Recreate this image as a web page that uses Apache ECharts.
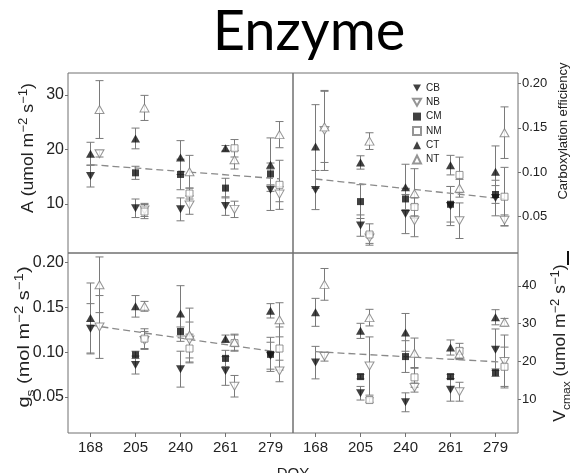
<!DOCTYPE html>
<html>
<head>
<meta charset="utf-8">
<script src="https://cdn.jsdelivr.net/npm/echarts@6/dist/echarts.min.js"></script>
<style>
html, body { margin: 0; padding: 0; background: #fff; }
#main { width: 572px; height: 473px; }
</style>
</head>
<body>
<div id="main"></div>
<script>
// DOY categories
var doy = ['168', '205', '240', '261', '279'];
// series order: CB, NB, CM, NM, CT, NT
var names = ['CB', 'NB', 'CM', 'NM', 'CT', 'NT'];

// A (umol m-2 s-1)
var aMean = [
    [15.1, 9.2, 9.0, 9.6, 12.6],
    [19.2, 8.9, 9.8, 9.0, 11.8],
    [null, 15.7, 15.4, 12.9, 15.5],
    [null, 8.6, 11.9, 20.2, 13.5],
    [19.2, 22.0, 18.5, 20.2, 17.2],
    [27.3, 27.6, 15.9, 18.1, 22.7]
];
var aErr = [
    [2.0, 1.7, 2.1, 1.7, 3.8],
    [0.6, 1.2, 1.7, 1.5, 1.4],
    [null, 1.2, 2.8, 1.8, 2.0],
    [null, 1.3, 1.0, 1.6, 4.5],
    [2.1, 1.9, 3.1, 0.5, 4.9],
    [5.3, 2.3, 3.0, 1.7, 2.4]
];
// Carboxylation efficiency
var ceMean = [
    [0.080, 0.040, 0.053, 0.062, 0.071],
    [0.147, 0.026, 0.0455, 0.0455, 0.046],
    [null, 0.067, 0.070, 0.064, 0.075],
    [null, 0.030, 0.061, 0.097, 0.0725],
    [0.129, 0.111, 0.083, 0.108, 0.1006],
    [0.151, 0.135, 0.076, 0.082, 0.1445]
];
var ceErr = [
    [0.022, 0.012, 0.022, 0.022, 0.020],
    [0.045, 0.006, 0.018, 0.020, 0.006],
    [null, 0.019, 0.012, 0.020, 0.010],
    [null, 0.012, 0.010, 0.020, 0.033],
    [0.047, 0.0075, 0.026, 0.011, 0.029],
    [0.040, 0.0094, 0.028, 0.010, 0.029]
];
// gs (mol m-2 s-1)
var gsMean = [
    [0.126, 0.0856, 0.081, 0.079, 0.096],
    [0.128, 0.113, 0.1135, 0.062, 0.079],
    [null, 0.097, 0.123, 0.093, 0.0975],
    [null, 0.115, 0.104, 0.110, 0.104],
    [0.138, 0.151, 0.143, 0.115, 0.146],
    [0.175, 0.151, 0.119, 0.111, 0.136]
];
var gsErr = [
    [0.028, 0.010, 0.020, 0.016, 0.015],
    [0.035, 0.010, 0.020, 0.012, 0.012],
    [null, 0.004, 0.005, 0.009, 0.019],
    [null, 0.011, 0.016, 0.009, 0.024],
    [0.039, 0.012, 0.031, 0.004, 0.008],
    [0.031, 0.0055, 0.030, 0.009, 0.019]
];
// Vcmax (umol m-2 s-1)
var vMean = [
    [19.7, 11.6, 9.2, 12.5, 23.1],
    [21.3, 18.8, 13.1, 12.0, 20.0],
    [null, 16.0, 21.3, 16.0, 17.05],
    [null, 9.8, 15.8, 22.8, 18.6],
    [33.0, 28.1, 27.7, 23.7, 31.7],
    [40.4, 31.6, 22.2, 22.0, 30.4]
];
var vErr = [
    [4.3, 1.8, 2.5, 3.0, 5.5],
    [1.2, 7.7, 1.2, 2.5, 7.0],
    [null, 0.6, 4.2, 0.6, 1.0],
    [null, 0.6, 2.6, 2.0, 5.2],
    [3.7, 2.0, 5.0, 2.0, 2.0],
    [4.2, 2.2, 4.0, 1.5, 1.0]
];
// dashed regression lines (start, end) and their x span in category units
var trendA = [17.2, 14.6];
var trendCE = [0.0924, 0.0699];
var trendGs = [0.130, 0.0997];
var trendV = [22.6, 19.8];
var trendX = [0, 4.2];

// tick labels
var ticksA = [10, 20, 30];
var ticksCE = [0.05, 0.10, 0.15, 0.20];
var ticksGs = [0.05, 0.10, 0.15, 0.20];
var ticksV = [10, 20, 30, 40];

var nShift = 0.2; // N treatments drawn a little right of the tick
var downTri = 'path://M0,0L2,0L1,1.732Z';
var marks = {
    CB: { symbol: downTri, size: [9, 8], open: false },
    NB: { symbol: downTri, size: [9, 8], open: true },
    CM: { symbol: 'rect', size: 7, open: false },
    NM: { symbol: 'rect', size: 7, open: true },
    CT: { symbol: 'triangle', size: [9, 8], open: false },
    NT: { symbol: 'triangle', size: [9, 8], open: true }
};
var font = 'Liberation Sans';
var frame = '#707070';

var panels = [
    { mean: aMean, err: aErr, trend: trendA, min: 1, max: 34, ticks: ticksA, side: 'left', dec: 0 },
    { mean: ceMean, err: ceErr, trend: trendCE, min: 0.0092, max: 0.2116, ticks: ticksCE, side: 'right', dec: 2 },
    { mean: gsMean, err: gsErr, trend: trendGs, min: 0.0099, max: 0.2104, ticks: ticksGs, side: 'left', dec: 2 },
    { mean: vMean, err: vErr, trend: trendV, min: 1.08, max: 48.7, ticks: ticksV, side: 'right', dec: 0 }
];

var grids = [
    { left: 68, top: 73, width: 225, height: 180 },
    { left: 293, top: 73, width: 225, height: 180 },
    { left: 68, top: 253, width: 225, height: 180 },
    { left: 293, top: 253, width: 225, height: 180 }
];

function renderErr(params, api) {
    var x = api.value(0);
    var p1 = api.coord([x, api.value(2)]);
    var p2 = api.coord([x, api.value(1)]);
    var w = 4;
    var st = { stroke: '#7a7a7a', lineWidth: 1 };
    return {
        type: 'group',
        children: [
            { type: 'line', shape: { x1: p1[0], y1: p1[1], x2: p2[0], y2: p2[1] }, style: st },
            { type: 'line', shape: { x1: p1[0] - w, y1: p1[1], x2: p1[0] + w, y2: p1[1] }, style: st },
            { type: 'line', shape: { x1: p2[0] - w, y1: p2[1], x2: p2[0] + w, y2: p2[1] }, style: st }
        ]
    };
}

var xAxes = [];
var yAxes = [];
var series = [];

for (var g = 0; g < 4; g++) {
    var p = panels[g];
    grids[g].show = true;
    grids[g].borderColor = frame;
    grids[g].borderWidth = 1;
    var bottom = g >= 2;
    xAxes.push({
        gridIndex: g,
        type: 'value',
        min: -0.5,
        max: 4.5,
        show: bottom,
        position: 'bottom',
        axisLine: { show: false, onZero: false },
        splitLine: { show: false },
        axisTick: { show: true, length: 4, customValues: [0, 1, 2, 3, 4], lineStyle: { color: frame } },
        axisLabel: {
            customValues: [0, 1, 2, 3, 4],
            formatter: function (v) { return doy[Math.round(v)]; },
            fontSize: 15, fontFamily: font, color: '#222', margin: 7
        }
    });
    (function (dec) {
        yAxes.push({
            gridIndex: g,
            type: 'value',
            min: p.min,
            max: p.max,
            position: p.side,
            axisLine: { show: false, onZero: false },
            splitLine: { show: false },
            axisTick: { show: true, length: 3, customValues: p.ticks, lineStyle: { color: frame } },
            axisLabel: {
                customValues: p.ticks,
                formatter: function (v) { return v.toFixed(dec); },
                fontSize: p.side == 'left' ? 16 : 13, fontFamily: font, color: '#222', margin: 4
            }
        });
    })(p.dec);

    // error bars
    var errData = [];
    for (var s = 0; s < names.length; s++) {
        var shift = names[s].charAt(0) == 'N' ? nShift : 0;
        for (var i = 0; i < doy.length; i++) {
            var m = p.mean[s][i];
            if (m == null) continue;
            errData.push([i + shift, m - p.err[s][i], m + p.err[s][i]]);
        }
    }
    series.push({
        type: 'custom',
        name: 'err' + g,
        xAxisIndex: g,
        yAxisIndex: g,
        renderItem: renderErr,
        encode: { x: 0, y: [1, 2] },
        data: errData,
        silent: true,
        z: 1
    });

    // dashed trend
    series.push({
        type: 'line',
        name: 'trend' + g,
        xAxisIndex: g,
        yAxisIndex: g,
        data: [[trendX[0], p.trend[0]], [trendX[1], p.trend[1]]],
        showSymbol: false,
        silent: true,
        lineStyle: { color: '#8a8a8a', width: 1.3, type: [7, 4] },
        z: 2
    });

    // markers
    for (var s2 = 0; s2 < names.length; s2++) {
        var nm = names[s2];
        var mk = marks[nm];
        var sh = nm.charAt(0) == 'N' ? nShift : 0;
        var pts = [];
        for (var j = 0; j < doy.length; j++) {
            if (p.mean[s2][j] == null) continue;
            pts.push([j + sh, p.mean[s2][j]]);
        }
        series.push({
            type: 'scatter',
            name: nm,
            xAxisIndex: g,
            yAxisIndex: g,
            symbol: mk.symbol,
            symbolSize: mk.size,
            itemStyle: mk.open
                ? { color: '#fff', borderColor: '#7a7a7a', borderWidth: 1 }
                : { color: '#111', borderColor: '#111', borderWidth: 0 },
            data: pts,
            z: 3
        });
    }
}

// rich styles for axis titles
function rich(size) {
    return {
        n: { fontSize: size, fontFamily: font, fill: '#222', lineHeight: size + 6, verticalAlign: 'middle' },
        sup: { fontSize: size - 4, fontFamily: font, fill: '#222', lineHeight: size - 2, verticalAlign: 'top' },
        sub: { fontSize: size - 5, fontFamily: font, fill: '#222', lineHeight: size - 2, verticalAlign: 'bottom' }
    };
}

var myChart = echarts.init(document.getElementById('main'), null, { renderer: 'canvas' });
option = {
    backgroundColor: '#fff',
    animation: false,
    grid: grids,
    xAxis: xAxes,
    yAxis: yAxes,
    legend: {
        data: names,
        orient: 'vertical',
        left: 407,
        top: 78,
        itemWidth: 8,
        itemHeight: 8,
        itemGap: 4.3,
        textStyle: { fontSize: 10, fontFamily: font, color: '#222', lineHeight: 10 }
    },
    graphic: [
        {
            type: 'text', x: 309, y: 4,
            style: { text: 'Enzyme', font: '56px Lato', fill: '#000', align: 'center', verticalAlign: 'top' }
        },
        {
            type: 'text', x: 29, y: 148, rotation: Math.PI / 2, scaleX: 1.1,
            style: {
                text: '{n|A (umol m}{sup|−2}{n| s}{sup|−1}{n|)}',
                rich: rich(16), align: 'center', verticalAlign: 'middle'
            }
        },
        {
            type: 'text', x: 25, y: 337, rotation: Math.PI / 2, scaleX: 1.25,
            style: {
                text: '{n|g}{sub|s}{n| (mol m}{sup|−2}{n| s}{sup|−1}{n|)}',
                rich: rich(16), align: 'center', verticalAlign: 'middle'
            }
        },
        {
            type: 'text', x: 563, y: 131, rotation: Math.PI / 2,
            style: {
                text: 'Carboxylation efficiency', font: '13px "Liberation Sans"', fill: '#222',
                align: 'center', verticalAlign: 'middle'
            }
        },
        {
            type: 'text', x: 561, y: 343, rotation: Math.PI / 2, scaleX: 1.09,
            style: {
                text: '{n|V}{sub|cmax}{n| (umol m}{sup|−2}{n| s}{sup|−1}{n|)}',
                rich: rich(16), align: 'center', verticalAlign: 'middle'
            }
        },
        {
            type: 'text', x: 293, y: 466,
            style: { text: 'DOY', font: '15px "Liberation Sans"', fill: '#222', align: 'center', verticalAlign: 'top' }
        },
        {
            type: 'rect', shape: { x: 567, y: 251, width: 2, height: 14 },
            style: { fill: '#111' }
        }
    ],
    series: series
};
myChart.setOption(option);
</script>
</body>
</html>
